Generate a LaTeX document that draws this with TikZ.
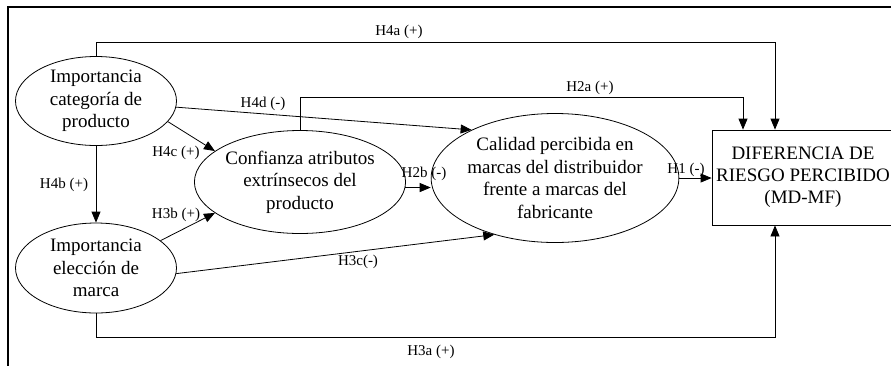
\documentclass[tikz,border=0pt]{standalone}
\usepackage{fontspec}
\setmainfont{Liberation Serif}
\usetikzlibrary{shapes.geometric, arrows.meta}
\tikzstyle{factor} = [ellipse, draw=black, line width=0.8pt, inner sep=0pt, align=center, font=\fontsize{19}{22.5}\selectfont]
\tikzstyle{outcome} = [rectangle, draw=black, line width=0.8pt, inner sep=0pt, minimum width=182pt, minimum height=95pt, align=center, font=\fontsize{19}{22}\selectfont]
\tikzstyle{arrow} = [line width=0.8pt, -{Triangle[length=11pt, width=9pt]}]
\tikzstyle{hyp} = [font=\fontsize{15}{17}\selectfont]

\begin{document}
\begin{tikzpicture}[x=1pt, y=-1pt]
\clip (0,0) rectangle (891,365);

% marco exterior
\draw [line width=1.3pt] (8,380) -- (8,7) -- (900,7);

\node (cat) [factor, minimum width=161pt, minimum height=89pt] at (96,101) {Importancia\\categoría de\\producto};
\node (elec) [factor, minimum width=161pt, minimum height=90pt] at (96,268) {Importancia\\elección de\\marca};
\node (conf) [factor, minimum width=185pt, minimum height=103pt] at (300,182) {Confianza atributos\\extrínsecos del\\producto};
\node (cal) [factor, minimum width=216pt, minimum height=129pt] at (555,178) {Calidad percibida en\\marcas del distribuidor\\frente a marcas del\\fabricante};
\node (dif) [outcome] at (803,177.5) {DIFERENCIA DE\\RIESGO PERCIBIDO\\(MD-MF)};

\coordinate (h4a) at (775,42);
\coordinate (h2a) at (743,97);
\coordinate (h3a) at (775,337);

% H4a, H2a, H3a
\draw [arrow] (cat.north) |- (h4a) -- (h4a |- dif.north);
\draw [arrow] (conf.north) |- (h2a) -- (h2a |- dif.north);
\draw [arrow] (elec.south) |- (h3a) -- (h3a |- dif.south);

% flechas directas
\draw [arrow] (cat) -- (cal.150);
\draw [arrow] (cat.-16) -- (conf.160);
\draw [arrow] (cat.south) -- (elec.north);
\draw [arrow] (elec.23) -- (conf.200);
\draw [arrow] (elec.-4) -- (cal.-137);
\draw [arrow] (conf.-3) -- (conf.-3 -| cal.west);
\draw [arrow] (cal.east) -- (cal.east -| dif.west);

% etiquetas
\node (l4a) [hyp] at (399,32) {H4a (+)};
\node (l2a) [hyp] at (590,88) {H2a (+)};
\node (l4d) [hyp] at (263,104) {H4d (-)};
\node (l4c) [hyp] at (176,153) {H4c (+)};
\node (l4b) [hyp] at (64,185) {H4b (+)};
\node (l3b) [hyp] at (176,215) {H3b (+)};
\node (l2b) [hyp] at (424,174) {H2b (-)};
\node (l1) [hyp] at (686,170) {H1 (-)};
\node (l3c) [hyp] at (358,262) {H3c(-)};
\node (l3a) [hyp] at (431,352) {H3a (+)};

\end{tikzpicture}
\end{document}
